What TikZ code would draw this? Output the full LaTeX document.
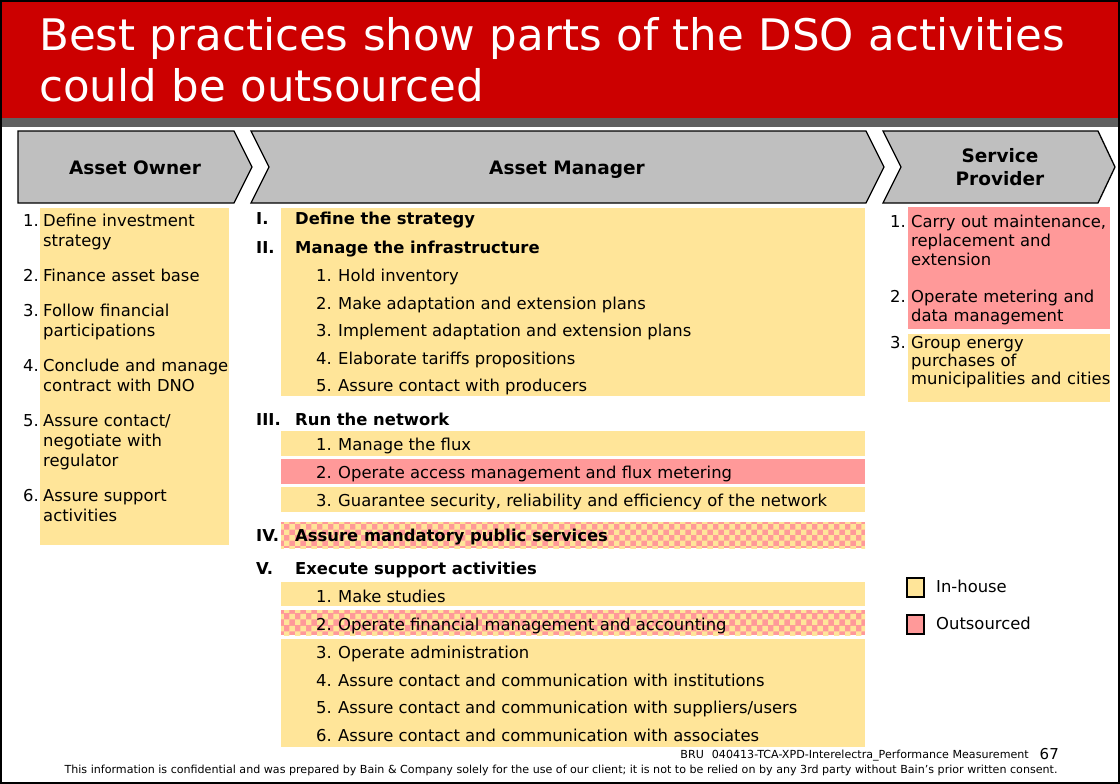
\documentclass[tikz,border=0pt]{standalone}
\usepackage{fontspec}
\setmainfont{DejaVu Sans}
\usetikzlibrary{patterns}
\definecolor{inyellow}{HTML}{FFE599}
\definecolor{outpink}{HTML}{FF9999}
\definecolor{titlered}{HTML}{CC0000}
\definecolor{stripgray}{HTML}{606060}
\definecolor{chevgray}{HTML}{BFBFBF}
\begin{document}
\begin{tikzpicture}[
        x=1pt, y=-1pt,
        font=\fontsize{16.4}{20}\selectfont
    ]
    \tikzset{
        inbox/.style = {fill=inyellow},
        outbox/.style = {fill=outpink},
        mixbox/.style = {preaction={fill=outpink}, pattern=checkerboard, pattern color=inyellow},
        chev/.style = {draw=black, line width=1.3pt, fill=chevgray},
        headtxt/.style = {align=center, inner sep=0, font=\fontsize{18.5}{23}\selectfont\bfseries},
        numtxt/.style = {anchor=base east, inner sep=0},
        itemtxt/.style = {anchor=base west, inner sep=0},
        listtxt/.style = {anchor=base west, inner sep=0, align=left, text width=260pt},
        romtxt/.style = {anchor=base west, inner sep=0, font=\fontsize{16.4}{20}\selectfont\bfseries},
        legbox/.style = {draw=black, line width=1.5pt},
        foottxt/.style = {inner sep=0, font=\fontsize{11.1}{13}\selectfont},
    }
    \useasboundingbox (0,0) rectangle (1120,784);
    % title band
    \fill[titlered] (0,0) rectangle (1120,118);
    \fill[stripgray] (0,118) rectangle (1120,127);
    \node[anchor=base west, inner sep=0, align=left, text width=1080pt, text=white,
          font=\fontsize{43.5}{51}\selectfont] (title) at (39,51)
          {Best practices show parts of the DSO activities\\could be outsourced};
    %
    % chevrons
    \draw[chev] (18,131) -- (234,131) -- (252,167) -- (234,203) -- (18,203) -- cycle;
    \draw[chev] (251,131) -- (866,131) -- (884,167) -- (866,203) -- (251,203) -- (269,167) -- cycle;
    \draw[chev] (883,131) -- (1098,131) -- (1115,167) -- (1098,203) -- (883,203) -- (901,167) -- cycle;
    \node[headtxt, anchor=base] (owner) at (135,174) {Asset Owner};
    \node[headtxt, anchor=base] (manager) at (567,174) {Asset Manager};
    \node[headtxt] (provider) at (1000,167) {Service\\Provider};
    %
    % asset owner
    \fill[inbox] (40,208) rectangle (229,545);
    \node[numtxt] (n1) at (39,226) {1.};
    \node[listtxt] (o1) at (43,226) {Define investment\\strategy};
    \node[numtxt] (n2) at (39,281) {2.};
    \node[listtxt] (o2) at (43,281) {Finance asset base};
    \node[numtxt] (n3) at (39,316) {3.};
    \node[listtxt] (o3) at (43,316) {Follow financial\\participations};
    \node[numtxt] (n4) at (39,371) {4.};
    \node[listtxt] (o4) at (43,371) {Conclude and manage\\contract with DNO};
    \node[numtxt] (n5) at (39,426) {5.};
    \node[listtxt] (o5) at (43,426) {Assure contact/\\negotiate with\\regulator};
    \node[numtxt] (n6) at (39,501) {6.};
    \node[listtxt] (o6) at (43,501) {Assure support\\activities};
    %
    % asset manager
    \fill[inbox] (281,208) rectangle (865,396);
    \fill[inbox] (281,431) rectangle (865,456);
    \fill[outbox] (281,459) rectangle (865,484);
    \fill[inbox] (281,487) rectangle (865,512);
    \path[mixbox] (281,522) rectangle (865,548);
    \fill[inbox] (281,582) rectangle (865,606);
    \path[mixbox] (281,610) rectangle (865,635);
    \fill[inbox] (281,639) rectangle (865,747);
    %
    \node[romtxt] (r1) at (256,224) {I.};
    \node[romtxt] (m1) at (295,224) {Define the strategy};
    \node[romtxt] (r2) at (256,253) {II.};
    \node[romtxt] (m2) at (295,253) {Manage the infrastructure};
    \node[numtxt] (m21n) at (332,281) {1.};
    \node[itemtxt] (m21) at (338,281) {Hold inventory};
    \node[numtxt] (m22n) at (332,309) {2.};
    \node[itemtxt] (m22) at (338,309) {Make adaptation and extension plans};
    \node[numtxt] (m23n) at (332,336) {3.};
    \node[itemtxt] (m23) at (338,336) {Implement adaptation and extension plans};
    \node[numtxt] (m24n) at (332,364) {4.};
    \node[itemtxt] (m24) at (338,364) {Elaborate tariffs propositions};
    \node[numtxt] (m25n) at (332,391) {5.};
    \node[itemtxt] (m25) at (338,391) {Assure contact with producers};
    %
    \node[romtxt] (r3) at (256,425) {III.};
    \node[romtxt] (m3) at (295,425) {Run the network};
    \node[numtxt] (m31n) at (332,450) {1.};
    \node[itemtxt] (m31) at (338,450) {Manage the flux};
    \node[numtxt] (m32n) at (332,478) {2.};
    \node[itemtxt] (m32) at (338,478) {Operate access management and flux metering};
    \node[numtxt] (m33n) at (332,506) {3.};
    \node[itemtxt] (m33) at (338,506) {Guarantee security, reliability and efficiency of the network};
    %
    \node[romtxt] (r4) at (256,541) {IV.};
    \node[romtxt] (m4) at (295,541) {Assure mandatory public services};
    %
    \node[romtxt] (r5) at (256,574) {V.};
    \node[romtxt] (m5) at (295,574) {Execute support activities};
    \node[numtxt] (m51n) at (332,602) {1.};
    \node[itemtxt] (m51) at (338,602) {Make studies};
    \node[numtxt] (m52n) at (332,630) {2.};
    \node[itemtxt] (m52) at (338,630) {Operate financial management and accounting};
    \node[numtxt] (m53n) at (332,658) {3.};
    \node[itemtxt] (m53) at (338,658) {Operate administration};
    \node[numtxt] (m54n) at (332,686) {4.};
    \node[itemtxt] (m54) at (338,686) {Assure contact and communication with institutions};
    \node[numtxt] (m55n) at (332,713) {5.};
    \node[itemtxt] (m55) at (338,713) {Assure contact and communication with suppliers/users};
    \node[numtxt] (m56n) at (332,741) {6.};
    \node[itemtxt] (m56) at (338,741) {Assure contact and communication with associates};
    %
    % service provider
    \fill[outbox] (908,207) rectangle (1110,329);
    \fill[inbox] (908,334) rectangle (1110,402);
    \node[numtxt] (s1n) at (906,227) {1.};
    \node[listtxt, font=\fontsize{16.4}{19}\selectfont] (s1) at (911,227) {Carry out maintenance,\\replacement and\\extension};
    \node[numtxt] (s2n) at (906,302) {2.};
    \node[listtxt, font=\fontsize{16.4}{19}\selectfont] (s2) at (911,302) {Operate metering and\\data management};
    \node[numtxt] (s3n) at (906,348) {3.};
    \node[listtxt, font=\fontsize{16.4}{18}\selectfont] (s3) at (911,348) {Group energy\\purchases of\\municipalities and cities};
    %
    % legend
    \draw[legbox, inbox] (907,578) rectangle (924,597);
    \node[itemtxt] (lin) at (936,592) {In-house};
    \draw[legbox, outbox] (907,615) rectangle (924,634);
    \node[itemtxt] (lout) at (936,629) {Outsourced};
    %
    % footer
    \node[foottxt, anchor=base east] (ref) at (1029,758)
          {BRU\hspace{8pt}040413-TCA-XPD-Interelectra\_Performance Measurement};
    \node[foottxt, anchor=base east, font=\fontsize{15}{17}\selectfont] (page) at (1059,759) {67};
    \node[foottxt, anchor=base] (conf) at (561,773)
          {This information is confidential and was prepared by Bain \& Company solely for the use of our client; it is not to be relied on by any 3rd party without Bain's prior written consent.};
    %
    \draw[line width=2pt] (1,1) rectangle (1119,783);
\end{tikzpicture}
\end{document}
